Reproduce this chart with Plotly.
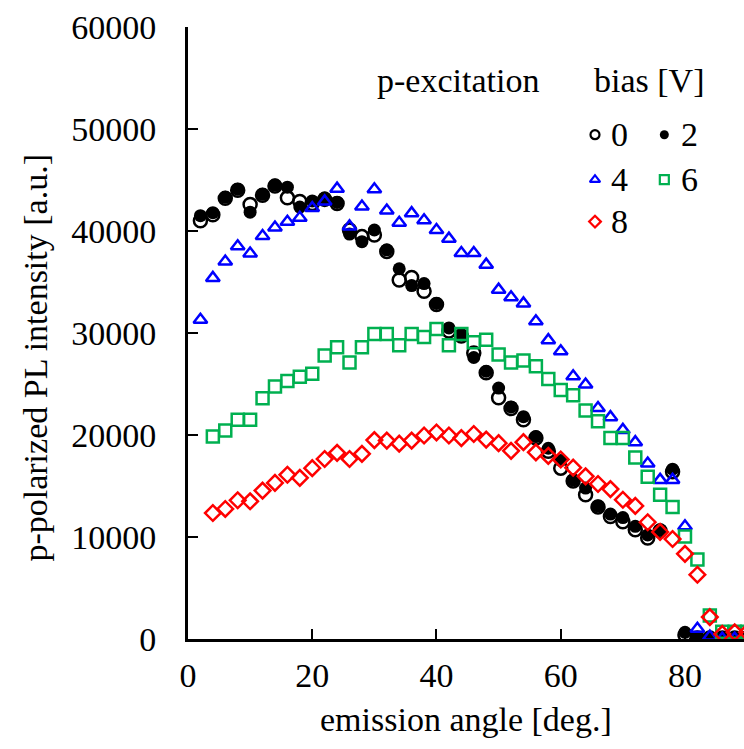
import plotly.graph_objects as go

# ---- data ----
angles_a = list(range(2, 91, 2))   # bias 0, 2, 4
angles_b = list(range(4, 91, 2))   # bias 6, 8

bias0 = [41000, 41600, 43200, 44000, 42600, 43500, 44400, 43250, 42900, 42700,
         43100, 42700, 40100, 39450, 39600, 38000, 35200, 35450, 34100, 32800,
         30200, 29700, 28050, 26100, 23650, 22600, 21500, 19700, 18400, 16750,
         15500, 14150, 12950, 12000, 11500, 10700, 9900, 10600, 16400, 400,
         100, 100, 100, 100, 100]
bias2 = [41500, 41800, 43300, 44100, 41850, 43600, 44500, 44300, 42350, 42950,
         43250, 42800, 39700, 38950, 40100, 38150, 36300, 34650, 34850, 32900,
         30500, 29850, 27600, 26250, 24600, 22750, 21800, 19850, 18700, 17500,
         15600, 14800, 13050, 12250, 11900, 11050, 10200, 10700, 16650, 650,
         100, 100, 100, 100, 100]
bias4 = [31300, 35400, 37000, 38500, 37800, 39500, 40350, 40900, 41300, 42250,
         42900, 44150, 40450, 42400, 44100, 42000, 40800, 41750, 41050, 40100,
         39250, 37850, 37850, 36700, 34250, 33500, 32900, 31150, 29300, 28200,
         25750, 24950, 22650, 21750, 20500, 19300, 17200, 15600, 15600, 11050,
         1000, 250, 50, 50, 50]
bias6 = [19850, 20450, 21500, 21500, 23600, 24750, 25300, 25700, 26000, 27800,
         28600, 27100, 28600, 29900, 29900, 28800, 29900, 29600, 30400, 28800,
         29900, 29100, 29350, 27900, 27100, 27300, 26750, 25500, 24400, 23900,
         22400, 21350, 19700, 19700, 17800, 15900, 14150, 12950, 10050, 7800,
         2300, 700, 700, 700]
bias8 = [12350, 12750, 13600, 13500, 14550, 15300, 16100, 15800, 16750, 17650,
         18250, 17650, 18150, 19500, 19450, 19150, 19450, 19950, 20250, 19950,
         19700, 20100, 19550, 19200, 18450, 19300, 18300, 17950, 17600, 16800,
         15950, 15200, 14700, 13650, 13050, 11450, 10500, 9800, 8350, 6300,
         2150, 500, 650, 650]

x_ticks = [0, 20, 40, 60, 80]
y_ticks = [0, 10000, 20000, 30000, 40000, 50000, 60000]

FONT = "Liberation Serif, DejaVu Serif, Times New Roman, serif"
BLUE = "#0000FF"
GREEN = "#00B050"
RED = "#FF0000"

series = [
    ("0", angles_a, bias0, "circle-open", "black", 13),
    ("2", angles_a, bias2, "circle", "black", 13),
    ("4", angles_a, bias4, "triangle-up-open", BLUE, 12),
    ("6", angles_b, bias6, "square-open", GREEN, 12),
    ("8", angles_b, bias8, "diamond-open", RED, 12),
]

fig = go.Figure()
for name, xs, ys, sym, col, sz in series:
    fig.add_trace(go.Scatter(
        x=xs, y=ys, mode="markers", name=name,
        marker=dict(symbol=sym, size=sz, color=col,
                    line=dict(width=2.5 if "open" in sym else 0, color=col)),
        showlegend=False,
    ))

# custom legend (two columns) on an overlay axis in fractional coords
leg_x = [0.732, 0.8567, 0.732, 0.8567, 0.732]
leg_y = [0.824, 0.824, 0.7505, 0.7505, 0.682]
for (name, xs, ys, sym, col, sz), lx, ly in zip(series, leg_x, leg_y):
    fig.add_trace(go.Scatter(
        x=[lx], y=[ly], mode="markers", xaxis="x2", yaxis="y2",
        marker=dict(symbol=sym, size=9, color=col,
                    line=dict(width=2.2 if "open" in sym else 0, color=col)),
        showlegend=False, hoverinfo="skip",
    ))

txt_x = [0.757, 0.883, 0.757, 0.883, 0.757]
annotations = []
for (name, *_), tx, ty in zip(series, txt_x, leg_y):
    annotations.append(dict(x=tx, y=ty, xref="paper", yref="paper", text=name,
                            showarrow=False, xanchor="left", yanchor="middle",
                            font=dict(family=FONT, size=34, color="black")))
annotations += [
    dict(x=0.486, y=0.912, xref="paper", yref="paper", text="p-excitation",
         showarrow=False, xanchor="center", yanchor="middle",
         font=dict(family=FONT, size=34, color="black")),
    dict(x=0.829, y=0.912, xref="paper", yref="paper", text="bias [V]",
         showarrow=False, xanchor="center", yanchor="middle",
         font=dict(family=FONT, size=34, color="black")),
    dict(x=0.500, y=-0.131, xref="paper", yref="paper", text="emission angle [deg.]",
         showarrow=False, xanchor="center", yanchor="middle",
         font=dict(family=FONT, size=34, color="black")),
    dict(x=-0.275, y=0.46, xref="paper", yref="paper",
         text="p-polarized PL intensity [a.u.]", textangle=-90,
         showarrow=False, xanchor="center", yanchor="middle",
         font=dict(family=FONT, size=34, color="black")),
]

axis_common = dict(showgrid=False, zeroline=False, showline=True, linecolor="black",
                   linewidth=3, ticks="inside", ticklen=10, tickwidth=2,
                   tickcolor="black", mirror=False, automargin=False,
                   tickfont=dict(family=FONT, size=34, color="black"))

fig.update_layout(
    width=744, height=749,
    margin=dict(l=188, r=0, t=27, b=110, autoexpand=False),
    paper_bgcolor="white", plot_bgcolor="white",
    font=dict(family=FONT),
    xaxis=dict(range=[0, 89.5], tickvals=x_ticks, ticklabelstandoff=4, **axis_common),
    yaxis=dict(range=[0, 60000], tickvals=y_ticks, tickformat="d",
               ticklabelstandoff=22, **axis_common),
    xaxis2=dict(overlaying="x", range=[0, 1], visible=False),
    yaxis2=dict(overlaying="y", range=[0, 1], visible=False),
    annotations=annotations,
    showlegend=False,
)

fig.write_html("out.html", config={"displayModeBar": False},
               post_script="document.body.style.margin='0';document.body.style.padding='0';")
